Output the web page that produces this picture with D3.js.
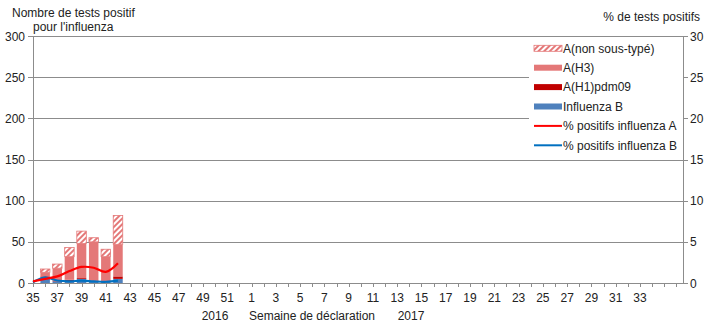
<!DOCTYPE html>
<html>
<head>
<meta charset="utf-8">
<script src="https://cdn.jsdelivr.net/npm/d3@7/dist/d3.min.js"></script>
<style>
  html, body { margin: 0; padding: 0; background: #fff; }
  svg { display: block; font-family: "Liberation Sans", Arial, sans-serif; }
</style>
</head>
<body>
<svg id="chart" width="710" height="325"></svg>
<script>
// ---- Data ----
const weeks = [35,36,37,38,39,40,41,42,43,44,45,46,47,48,49,50,51,52,
               1,2,3,4,5,6,7,8,9,10,11,12,13,14,15,16,17,18,19,20,21,22,23,24,25,26,27,28,29,30,31,32,33,34,35,36];
const tickLabels = [35,37,39,41,43,45,47,49,51,1,3,5,7,9,11,13,15,17,19,21,23,25,27,29,31,33];
const dataWeeks = [35,36,37,38,39,40,41,42];
const influenzaB = [0, 7, 2, 2, 5, 2, 2, 5];
const h1pdm09    = [0, 1, 1, 2, 1, 1, 1, 3];
const h3         = [0, 5, 15, 28, 42, 47, 29, 39];
const nonSousType= [0, 4, 5, 11, 15, 5, 9, 35];
const pctA = [0.2, 0.5, 0.8, 1.45, 1.95, 1.85, 1.35, 2.4];
const pctB = [0.1, 0.7, 0.3, 0.2, 0.28, 0.2, 0.15, 0.28];
const leftTicks = [0,50,100,150,200,250,300];
const rightTicks = [0,5,10,15,20,25,30];

(function () {
const colB = "#4F81BD", colH1 = "#C00000", colH3 = "#E47878", colNS = "#E47878";
const colLineA = "#FF0000", colLineB = "#0070C0";

const svg = d3.select("#chart");
const pLeft = 33, pRight = 683, pTop = 36, pBottom = 283;
const step = 12.14;

const idx = weeks.map((w, i) => i);
const x = d3.scalePoint().domain(idx).range([pLeft, pLeft + step * (weeks.length - 1)]);
const yL = d3.scaleLinear().domain([0, 300]).range([pBottom, pTop]);
const yR = d3.scaleLinear().domain([0, 30]).range([pBottom, pTop]);

// label index: first year part up to index 17, second year from 18
const labelIndex = d => (d >= 35 || d > 34) && weeks.indexOf(d) < 18 && d >= 35 ? weeks.indexOf(d)
  : (d > 34 ? weeks.indexOf(d) : weeks.indexOf(d, 18));

const defs = svg.append("defs");
const pat = defs.append("pattern").attr("id", "hatch").attr("patternUnits", "userSpaceOnUse")
  .attr("width", 4).attr("height", 4).attr("patternTransform", "rotate(45)");
pat.append("rect").attr("width", 4).attr("height", 4).attr("fill", "#fff");
pat.append("rect").attr("width", 2).attr("height", 4).attr("fill", colNS);

const gridCol = "#8C8C8C";

svg.append("g").selectAll("line").data(leftTicks).join("line")
  .attr("x1", pLeft).attr("x2", pRight)
  .attr("y1", d => Math.round(yL(d)) + 0.5).attr("y2", d => Math.round(yL(d)) + 0.5)
  .attr("stroke", gridCol).attr("stroke-width", 1);

svg.append("line").attr("x1", pLeft + 0.5).attr("x2", pLeft + 0.5).attr("y1", pTop).attr("y2", pBottom)
  .attr("stroke", gridCol);
svg.append("g").selectAll("line").data(leftTicks).join("line")
  .attr("x1", pLeft - 5).attr("x2", pLeft)
  .attr("y1", d => Math.round(yL(d)) + 0.5).attr("y2", d => Math.round(yL(d)) + 0.5)
  .attr("stroke", gridCol);
svg.append("g").selectAll("text").data(leftTicks).join("text")
  .attr("x", 25).attr("y", d => yL(d) + 4.5).attr("text-anchor", "end")
  .attr("font-size", 12).attr("fill", "#222").text(d => d);

svg.append("line").attr("x1", pRight + 0.5).attr("x2", pRight + 0.5).attr("y1", pTop).attr("y2", pBottom)
  .attr("stroke", gridCol);
svg.append("g").selectAll("line").data(rightTicks).join("line")
  .attr("x1", pRight).attr("x2", pRight + 5)
  .attr("y1", d => Math.round(yR(d)) + 0.5).attr("y2", d => Math.round(yR(d)) + 0.5)
  .attr("stroke", gridCol);
svg.append("g").selectAll("text").data(rightTicks).join("text")
  .attr("x", 690).attr("y", d => yR(d) + 4.5).attr("text-anchor", "start")
  .attr("font-size", 12).attr("fill", "#222").text(d => d);

svg.append("g").selectAll("line").data(idx).join("line")
  .attr("x1", d => Math.round(x(d)) + 0.5).attr("x2", d => Math.round(x(d)) + 0.5)
  .attr("y1", pBottom).attr("y2", pBottom + 4).attr("stroke", gridCol);
svg.append("g").selectAll("text").data(tickLabels).join("text")
  .attr("x", (d, i) => x(i * 2))
  .attr("y", 302).attr("text-anchor", "middle").attr("font-size", 12).attr("fill", "#222")
  .text(d => d);

const bw = 9.5;
const stacks = dataWeeks.map((w, i) => {
  const segs = [];
  let acc = 0;
  [[influenzaB[i], colB], [h1pdm09[i], colH1], [h3[i], colH3], [nonSousType[i], "url(#hatch)"]].forEach(([v, c], k) => {
    segs.push({ i: weeks.indexOf(w), y0: acc, y1: acc + v, fill: c, k });
    acc += v;
  });
  return segs;
}).flat().filter(s => s.y1 > s.y0);

svg.append("g").selectAll("rect").data(stacks).join("rect")
  .attr("x", d => x(d.i) - bw / 2).attr("width", bw)
  .attr("y", d => yL(d.y1)).attr("height", d => yL(d.y0) - yL(d.y1))
  .attr("fill", d => d.fill)
  .attr("stroke", d => d.k === 3 ? colNS : "none").attr("stroke-width", 0.8);

const line = (arr) => d3.line().x((d, i) => x(weeks.indexOf(dataWeeks[i]))).y(d => yR(d))
  .curve(d3.curveCatmullRom.alpha(0.5))(arr);
svg.append("path").attr("d", line(pctB)).attr("fill", "none").attr("stroke", colLineB).attr("stroke-width", 2.2);
svg.append("path").attr("d", line(pctA)).attr("fill", "none").attr("stroke", colLineA).attr("stroke-width", 2.2);

const lg = svg.append("g");
lg.append("rect").attr("x", 529).attr("y", 38).attr("width", pRight - 529).attr("height", 118).attr("fill", "#fff");
const legendItems = [
  { label: "A(non sous-typé)", type: "rect", fill: "url(#hatch)" },
  { label: "A(H3)", type: "rect", fill: colH3 },
  { label: "A(H1)pdm09", type: "rect", fill: colH1 },
  { label: "Influenza B", type: "rect", fill: colB },
  { label: "% positifs influenza A", type: "line", fill: colLineA },
  { label: "% positifs influenza B", type: "line", fill: colLineB }
];
legendItems.forEach((d, i) => {
  const cy = 48.3 + i * 19.4;
  if (d.type === "rect") {
    lg.append("rect").attr("x", 534).attr("y", cy - 3).attr("width", 28).attr("height", 6)
      .attr("fill", d.fill).attr("stroke", i === 0 ? colNS : "none").attr("stroke-width", 0.8);
  } else {
    lg.append("line").attr("x1", 534).attr("x2", 562).attr("y1", cy).attr("y2", cy)
      .attr("stroke", d.fill).attr("stroke-width", 2);
  }
  lg.append("text").attr("x", 563).attr("y", cy + 4.3).attr("font-size", 12).attr("fill", "#222").text(d.label);
});

svg.append("text").attr("x", 12).attr("y", 17).attr("font-size", 12).attr("fill", "#222").text("Nombre de tests positif");
svg.append("text").attr("x", 33).attr("y", 31).attr("font-size", 12).attr("fill", "#222").text("pour l'influenza");
svg.append("text").attr("x", 700).attr("y", 21).attr("font-size", 12).attr("fill", "#222").attr("text-anchor", "end").text("% de tests positifs");

svg.append("text").attr("x", 215).attr("y", 320).attr("font-size", 12).attr("fill", "#222").attr("text-anchor", "middle").text("2016");
svg.append("text").attr("x", 312).attr("y", 320).attr("font-size", 12).attr("fill", "#222").attr("text-anchor", "middle").text("Semaine de déclaration");
svg.append("text").attr("x", 411).attr("y", 320).attr("font-size", 12).attr("fill", "#222").attr("text-anchor", "middle").text("2017");
})();
</script>
</body>
</html>
